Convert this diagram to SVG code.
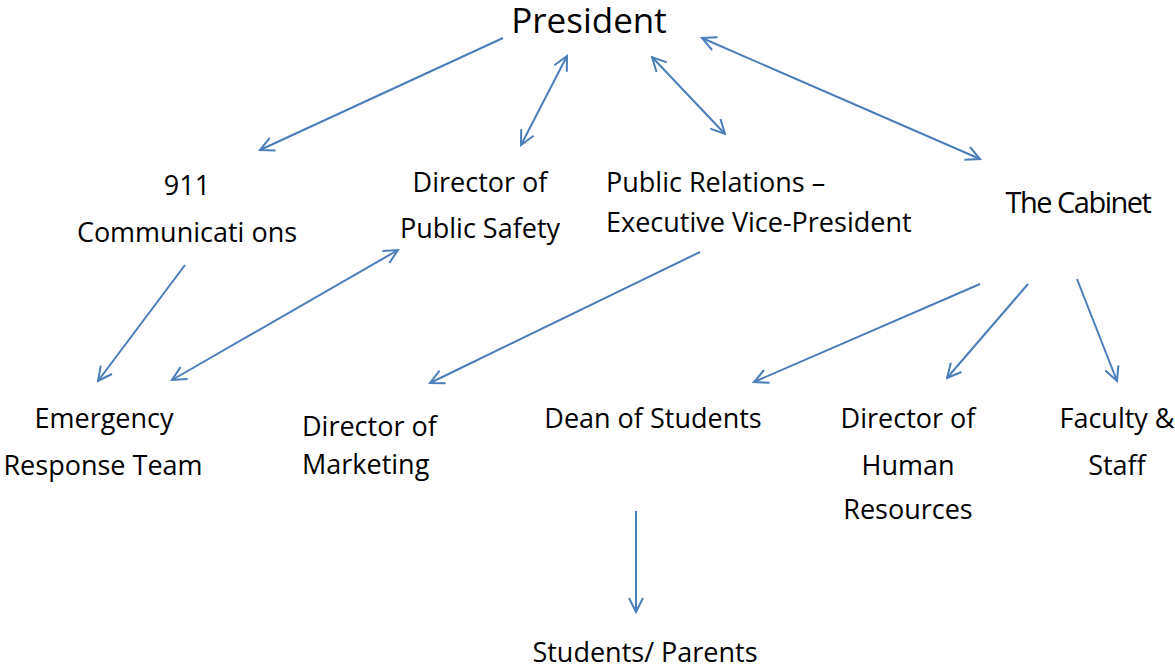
<svg xmlns="http://www.w3.org/2000/svg" width="1175" height="669" viewBox="0 0 1175 669">
<style>
text{font-family:"Open Sans",Lato,"Liberation Sans",sans-serif;font-size:27px;fill:#000}
.c{text-anchor:middle}
.big{font-size:35px}
.cab{font-family:"Open Sans","Liberation Sans",sans-serif;font-size:29px;letter-spacing:-1.5px}
.ln{stroke:#4a7ebb;stroke-width:2;fill:none}
</style>
<defs>
<marker id="ah" viewBox="-16 -8 18 16" refX="0" refY="0" markerWidth="18" markerHeight="16" markerUnits="userSpaceOnUse" orient="auto-start-reverse">
<path d="M-14,-7 L0,0 L-14,7" fill="none" stroke="#4a7ebb" stroke-width="2"/>
</marker>
</defs>
<rect width="1175" height="669" fill="#fff"/>
<g id="connectors">
<line class="ln" x1="503" y1="38" x2="260" y2="150" marker-end="url(#ah)"/>
<line class="ln" x1="567" y1="56" x2="521" y2="145" marker-start="url(#ah)" marker-end="url(#ah)"/>
<line class="ln" x1="652" y1="57" x2="725" y2="134" marker-start="url(#ah)" marker-end="url(#ah)"/>
<line class="ln" x1="702" y1="38" x2="980" y2="159" marker-start="url(#ah)" marker-end="url(#ah)"/>
<line class="ln" x1="185" y1="265" x2="98" y2="381" marker-end="url(#ah)"/>
<line class="ln" x1="172" y1="380" x2="398" y2="250" marker-start="url(#ah)" marker-end="url(#ah)"/>
<line class="ln" x1="700" y1="252" x2="430" y2="383" marker-end="url(#ah)"/>
<line class="ln" x1="980" y1="284" x2="754" y2="382" marker-end="url(#ah)"/>
<line class="ln" x1="1028" y1="284" x2="947" y2="378" marker-end="url(#ah)"/>
<line class="ln" x1="1077" y1="279" x2="1117" y2="381" marker-end="url(#ah)"/>
<line class="ln" x1="636" y1="511" x2="636" y2="612" marker-end="url(#ah)"/>
</g>
<g id="president"><text class="c big" x="589" y="33">President</text></g>
<g id="comm911"><text class="c" x="187" y="195">911</text><text class="c" x="187" y="242">Communicati ons</text></g>
<g id="publicsafety"><text class="c" x="480" y="192">Director of</text><text class="c" x="480" y="238">Public Safety</text></g>
<g id="pr"><text x="606" y="192">Public Relations –</text><text x="606" y="232">Executive Vice-President</text></g>
<g id="cabinet"><text class="c cab" x="1078" y="213">The Cabinet</text></g>
<g id="ert"><text class="c" x="104" y="428">Emergency</text><text class="c" x="103" y="475">Response Team</text></g>
<g id="marketing"><text x="302" y="436">Director of</text><text x="302" y="474">Marketing</text></g>
<g id="dean"><text class="c" x="653" y="428">Dean of Students</text></g>
<g id="hr"><text class="c" x="908" y="428">Director of</text><text class="c" x="908" y="475">Human</text><text class="c" x="908" y="519">Resources</text></g>
<g id="faculty"><text class="c" x="1117" y="428">Faculty &amp;</text><text class="c" x="1117" y="475">Staff</text></g>
<g id="students"><text class="c" x="645" y="662">Students/ Parents</text></g>
</svg>
